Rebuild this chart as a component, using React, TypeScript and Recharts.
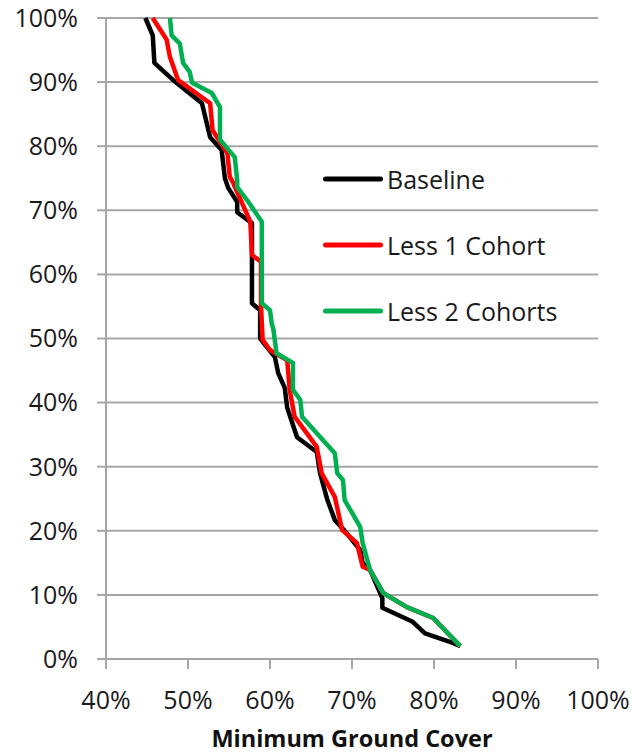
import React from 'react'
import { LineChart, Line, XAxis, YAxis, CartesianGrid, Legend } from 'recharts'

// minimum ground cover (%) vs share of runs (%) for each scenario
const baselineCover = [44.8, 45.7, 45.9, 48.2, 51.7, 52.7, 54.1, 54.5, 54.9, 56.0, 56.0, 57.8, 57.8, 58.8, 58.8, 60.6, 61.0, 61.8, 62.1, 63.3, 65.7, 66.1, 67.0, 67.9, 69.1, 71.0, 71.3, 72.2, 73.7, 73.7, 77.4, 78.9, 82.3, 83.2]
const baselineShare = [100, 97.3, 93.0, 90.3, 86.7, 81.4, 79.4, 75.0, 73.5, 71.3, 69.7, 68.0, 55.5, 54.4, 50.0, 47.1, 44.6, 42.3, 39.2, 34.6, 32.3, 29.0, 24.8, 21.7, 20.0, 17.0, 15.0, 13.9, 9.5, 8.0, 5.8, 4.0, 2.5, 2.0]

const lessOneCover = [45.7, 47.4, 47.8, 48.8, 52.7, 53.0, 54.8, 55.1, 55.5, 57.6, 57.8, 58.9, 58.9, 59.1, 60.0, 62.1, 62.4, 63.0, 65.7, 66.3, 67.9, 68.8, 70.6, 71.3, 72.2, 73.8, 76.7, 79.9, 83.2]
const lessOneShare = [100, 96.6, 93.9, 90.3, 86.7, 82.5, 78.9, 75.2, 74.3, 68.2, 63.0, 62.0, 55.2, 49.8, 48.2, 46.6, 42.0, 37.8, 33.1, 29.0, 25.3, 20.1, 18.1, 14.4, 13.9, 10.3, 8.1, 6.4, 2.0]

const lessTwoCover = [47.8, 48.0, 49.0, 49.4, 50.2, 50.5, 52.9, 53.9, 53.9, 55.7, 56.0, 56.0, 57.2, 59.0, 59.0, 60.0, 60.2, 60.4, 60.8, 62.8, 62.8, 63.7, 63.9, 67.9, 68.2, 68.9, 69.1, 71.0, 71.3, 72.2, 73.8, 76.7, 79.9, 83.2]
const lessTwoShare = [100, 97.3, 96.0, 93.0, 91.6, 89.9, 88.3, 86.1, 81.0, 78.3, 74.7, 73.6, 71.6, 68.2, 55.5, 54.4, 52.4, 51.5, 47.7, 46.2, 42.0, 40.4, 37.8, 32.1, 29.0, 27.9, 24.8, 20.6, 18.1, 13.9, 10.3, 8.1, 6.4, 2.0]

const xTicks = [40, 50, 60, 70, 80, 90, 100]
const yTicks = [0, 10, 20, 30, 40, 50, 60, 70, 80, 90, 100]

const zip = (xs: number[], ys: number[]) => xs.map((x, i) => ({ x, y: ys[i] }))

const FONT = "'Open Sans', sans-serif"
const GRID = '#a6a6a6'

function renderLegend(props: any) {
  const { payload = [] } = props
  return (
    <div style={{ fontFamily: FONT }}>
      {payload.map((entry: any, i: number) => (
        <div key={i} style={{ display: 'flex', alignItems: 'center', height: 66 }}>
          <svg width={64} height={8} style={{ display: 'block' }}>
            <line x1={4.5} y1={4} x2={59.5} y2={4} stroke={entry.color} strokeWidth={5} strokeLinecap="round" />
          </svg>
          <span style={{ fontSize: 25, lineHeight: 1, color: '#1a1a1a', marginLeft: 2 }}>{entry.value}</span>
        </div>
      ))}
    </div>
  )
}

export default function App() {
  const pct = (v: number) => `${v}%`
  return (
    <div style={{ position: 'absolute', left: 0, top: 0, width: 632, height: 756, background: '#fff' }}>
      <LineChart width={632} height={756} margin={{ top: 18, right: 34, bottom: 0, left: 0 }}>
        <CartesianGrid vertical={false} stroke={GRID} strokeWidth={2} />
        <XAxis
          type="number"
          dataKey="x"
          domain={[40, 100]}
          ticks={xTicks}
          tickFormatter={pct}
          height={97}
          tickSize={10}
          tickMargin={22}
          axisLine={{ stroke: GRID, strokeWidth: 2 }}
          tickLine={{ stroke: GRID, strokeWidth: 2 }}
          tick={{ fill: '#1a1a1a', fontSize: 25, fontFamily: FONT }}
          label={{
            value: 'Minimum Ground Cover',
            position: 'insideBottom',
            offset: 9,
            style: { fontFamily: FONT, fontSize: 23.5, fontWeight: 700, fill: '#111' },
          }}
        />
        <YAxis
          type="number"
          dataKey="y"
          domain={[0, 100]}
          ticks={yTicks}
          tickFormatter={pct}
          width={106}
          tickSize={9}
          tickMargin={19}
          axisLine={{ stroke: GRID, strokeWidth: 2 }}
          tickLine={{ stroke: GRID, strokeWidth: 2 }}
          tick={{ fill: '#1a1a1a', fontSize: 25, fontFamily: FONT }}
        />
        <Legend
          layout="vertical"
          align="center"
          verticalAlign="middle"
          content={renderLegend}
          wrapperStyle={{ position: 'absolute', left: 321, top: 146, width: 280 }}
        />
        <Line
          name="Baseline"
          data={zip(baselineCover, baselineShare)}
          dataKey="y"
          type="linear"
          stroke="#000000"
          strokeWidth={4.5}
          strokeLinejoin="round"
          dot={false}
          isAnimationActive={false}
        />
        <Line
          name="Less 1 Cohort"
          data={zip(lessOneCover, lessOneShare)}
          dataKey="y"
          type="linear"
          stroke="#ff0000"
          strokeWidth={4.5}
          strokeLinejoin="round"
          dot={false}
          isAnimationActive={false}
        />
        <Line
          name="Less 2 Cohorts"
          data={zip(lessTwoCover, lessTwoShare)}
          dataKey="y"
          type="linear"
          stroke="#00b050"
          strokeWidth={4.5}
          strokeLinejoin="round"
          dot={false}
          isAnimationActive={false}
        />
      </LineChart>
    </div>
  )
}
